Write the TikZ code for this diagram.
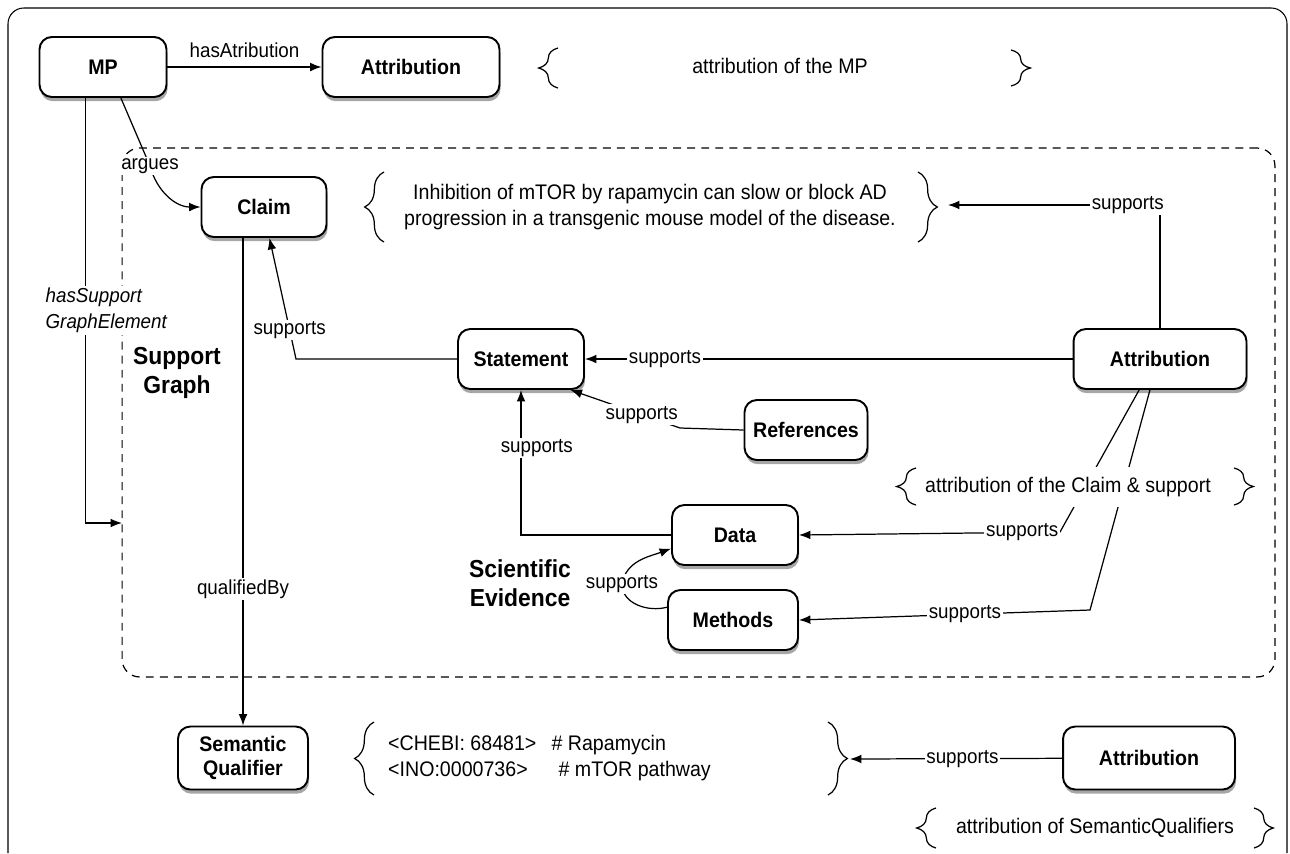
\documentclass[tikz,border=0pt]{standalone}
\usepackage{fontspec}
\setmainfont{Liberation Sans}[FakeStretch=0.93]
\usetikzlibrary{arrows.meta,shadows,decorations.pathreplacing}
\tikzset
{
    entity/.style = {rectangle, rounded corners=7pt, draw=black, line width=1.1pt, fill=white, align=center, font=\bfseries\fontsize{12}{13.5}\selectfont, minimum height=1.2cm, drop shadow={shadow xshift=0.6pt, shadow yshift=-2.4pt, opacity=0.35, fill=black}},
    rel/.style    = {fill=white, inner sep=1pt, font=\fontsize{11.5}{13}\selectfont},
    note/.style   = {align=center, font=\fontsize{12}{15}\selectfont},
    region/.style = {align=center, font=\bfseries\fontsize{14}{16.5}\selectfont},
    link/.style   = {-{Latex[length=6.5pt,width=5pt]}, line width=0.7pt},
    curly/.style  = {decorate, decoration={brace, amplitude=11pt}, line width=0.7pt}
}

\begin{document}
\begin{tikzpicture}[x=0.02cm, y=-0.02cm]
\useasboundingbox (0,0) rectangle (1290,853);
\draw[line width=0.6pt, rounded corners=9pt] (8,853) -- (8,8) -- (1287,8) -- (1287,853);

% support graph region
\node[draw, dash pattern=on 4.5pt off 3.5pt, line width=0.7pt, rounded corners=10pt, minimum width=23.06cm, minimum height=10.58cm] (sg) at (698.5,412.5) {};
\node[region] (sglabel) at (177,373) {Support\\Graph};
\node[region] (evlabel) at (520,583) {Scientific\\Evidence};

% entities
\node[entity, minimum width=2.54cm] (mp) at (103,67) {MP};
\node[entity, minimum width=3.54cm] (attrmp) at (411,67) {Attribution};
\node[entity, minimum width=2.5cm] (claim) at (264,207) {Claim};
\node[entity, minimum width=2.52cm] (stmt) at (521,359) {Statement};
\node[entity, minimum width=3.46cm] (attrsup) at (1160,359) {Attribution};
\node[entity, minimum width=2.46cm] (refs) at (806,430) {References};
\node[entity, minimum width=2.52cm] (data) at (735,535) {Data};
\node[entity, minimum width=2.6cm] (methods) at (733,620) {Methods};
\node[entity, minimum width=2.6cm, minimum height=1.26cm] (semq) at (243,758) {Semantic\\Qualifier};
\node[entity, minimum width=3.44cm, minimum height=1.26cm] (attrsq) at (1149,758) {Attribution};

% texts in braces
\node[note] (mptxt) at (780,66) {attribution of the MP};
\draw[curly] (558,88) -- (558,48);
\draw[curly] (1011,50) -- (1011,86);
\node[note] (claimtxt) at (650,207) {Inhibition of mTOR by rapamycin can slow or block AD\\progression in a transgenic mouse model of the disease.};
\draw[curly] (384,242) -- (384,172);
\draw[curly] (918,172) -- (918,242);
\node[note, anchor=west, align=left] (semtxt) at (382,758) {\makebox[93pt][l]{<CHEBI: 68481>}\# Rapamycin\\\makebox[97pt][l]{<INO:0000736>}\# mTOR pathway};
\draw[curly] (374,795) -- (374,722);
\draw[curly] (828,722) -- (828,795);
\node[note] (sqtxt) at (1095,828) {attribution of SemanticQualifiers};
\draw[curly] (936,848) -- (936,808);
\draw[curly] (1254,808) -- (1254,848);

\coordinate (sgin) at (122,523);
\coordinate (cltip) at (948,205);
\coordinate (sqtip) at (850,759);
\coordinate (stbend) at (296,359);
\coordinate (refbend) at (680,428);
\coordinate (dbend) at (1060,532);
\coordinate (mbend) at (1090,610);
\coordinate (mdloop) at (622,584);

% connectors
\draw[link] (mp) -- node[rel, above=4pt]{hasAtribution} (attrmp);
\draw[link] (mp.-60) -- (150,166) node[rel]{argues} to[out=-75, in=180] (claim.west);
\draw[link] (mp.-120) -- node[rel, xshift=12pt, font=\itshape\fontsize{11.5}{14.7}\selectfont, align=left]{hasSupport\\GraphElement} (mp.-120 |- sgin) -- (sgin);
\draw[link] (attrsup.north) |- node[rel, pos=0.576]{supports} (cltip);
\draw[link] (attrsup) -- node[rel, pos=0.836]{supports} (stmt);
\draw[link] (stmt.west) -- (stbend) -- node[rel, pos=0.24]{supports} (claim.-80);
\draw[link] (semq.north |- claim.south) -- node[rel, pos=0.72]{qualifiedBy} (semq.north);
\draw[link] (refs.west) -- (refbend) -- node[rel, pos=0.35]{supports} (stmt.-32);
\draw[link] (data.west) -| node[rel, pos=0.8, xshift=9pt]{supports} (stmt.south);
\draw[link] (attrsup.-124) -- (dbend) -- node[rel, pos=0.145]{supports} (data.east);
\draw[link] (attrsup.-108) -- (mbend) -- node[rel, pos=0.43]{supports} (methods.east);
\draw[link] (methods.169) to[out=195, in=-90] (mdloop) node[rel]{supports} to[out=80, in=200] (data.-168);
\draw[link] (attrsq) -- node[rel, pos=0.47]{supports} (sqtip);

% attribution of the support, over its lines
\node[note, fill=white, inner sep=6pt] (suptxt) at (1068,487) {attribution of the Claim \& support};
\draw[curly] (916,505) -- (916,468);
\draw[curly] (1234,468) -- (1234,505);
\end{tikzpicture}
\end{document}
